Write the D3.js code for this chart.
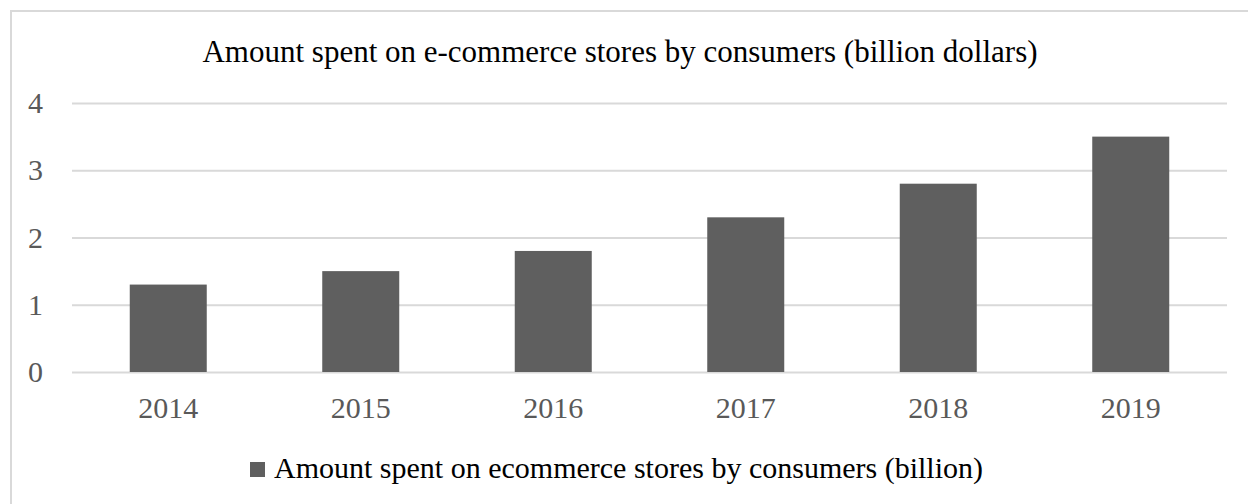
<!DOCTYPE html>
<html><head><meta charset="utf-8">
<script src="https://cdn.jsdelivr.net/npm/d3@7"></script>
<style>body{margin:0;background:#fff}svg{display:block}</style>
</head><body>
<script>
const categories = ["2014","2015","2016","2017","2018","2019"];
const values = [1.3, 1.5, 1.8, 2.3, 2.8, 3.5];
const yTicks = [0,1,2,3,4];
const title = "Amount spent on e-commerce stores by consumers (billion dollars)";
const seriesName = "Amount spent on ecommerce stores by consumers (billion)";

const W = 1248, H = 504;
const svg = d3.select("body").append("svg").attr("width", W).attr("height", H);
const font = "'Liberation Serif','Times New Roman',serif";

svg.append("rect").attr("x",11).attr("y",11).attr("width",W).attr("height",H)
  .attr("fill","#fff").attr("stroke","#d9d9d9").attr("stroke-width",2);

const x = d3.scaleBand().domain(categories).range([72,1227]).paddingInner(0.6).paddingOuter(0.3);
const y = d3.scaleLinear().domain([0,4]).range([372,103]);

svg.append("text").attr("x",620).attr("y",62).attr("text-anchor","middle")
  .attr("font-family",font).attr("font-size",31).attr("fill","#000").text(title);

const grid = svg.append("g").attr("transform","translate(72,0)")
  .call(d3.axisLeft(y).tickValues(yTicks).tickSize(-1155).tickFormat(d3.format("d")).tickPadding(29));
grid.select(".domain").remove();
grid.selectAll(".tick line").attr("stroke","#d9d9d9").attr("stroke-width",2);
grid.selectAll(".tick text").attr("font-family",font).attr("font-size",30).attr("fill","#595959");

svg.append("g").selectAll("rect").data(values).join("rect")
  .attr("x",(d,i)=>x(categories[i])).attr("width",x.bandwidth())
  .attr("y",d=>y(d)).attr("height",d=>y(0)-y(d)).attr("fill","#5f5f5f");

const xa = svg.append("g").attr("transform","translate(0,372)")
  .call(d3.axisBottom(x).tickSize(0).tickPadding(25));
xa.select(".domain").remove();
xa.selectAll(".tick text").attr("font-family",font).attr("font-size",30).attr("fill","#595959");

const lg = svg.append("g");
lg.append("rect").attr("x",250).attr("y",462).attr("width",15).attr("height",15).attr("fill","#5f5f5f");
lg.append("text").attr("x",274).attr("y",478).attr("font-family",font).attr("font-size",30)
  .attr("fill","#000").text(seriesName);
</script>
</body></html>
